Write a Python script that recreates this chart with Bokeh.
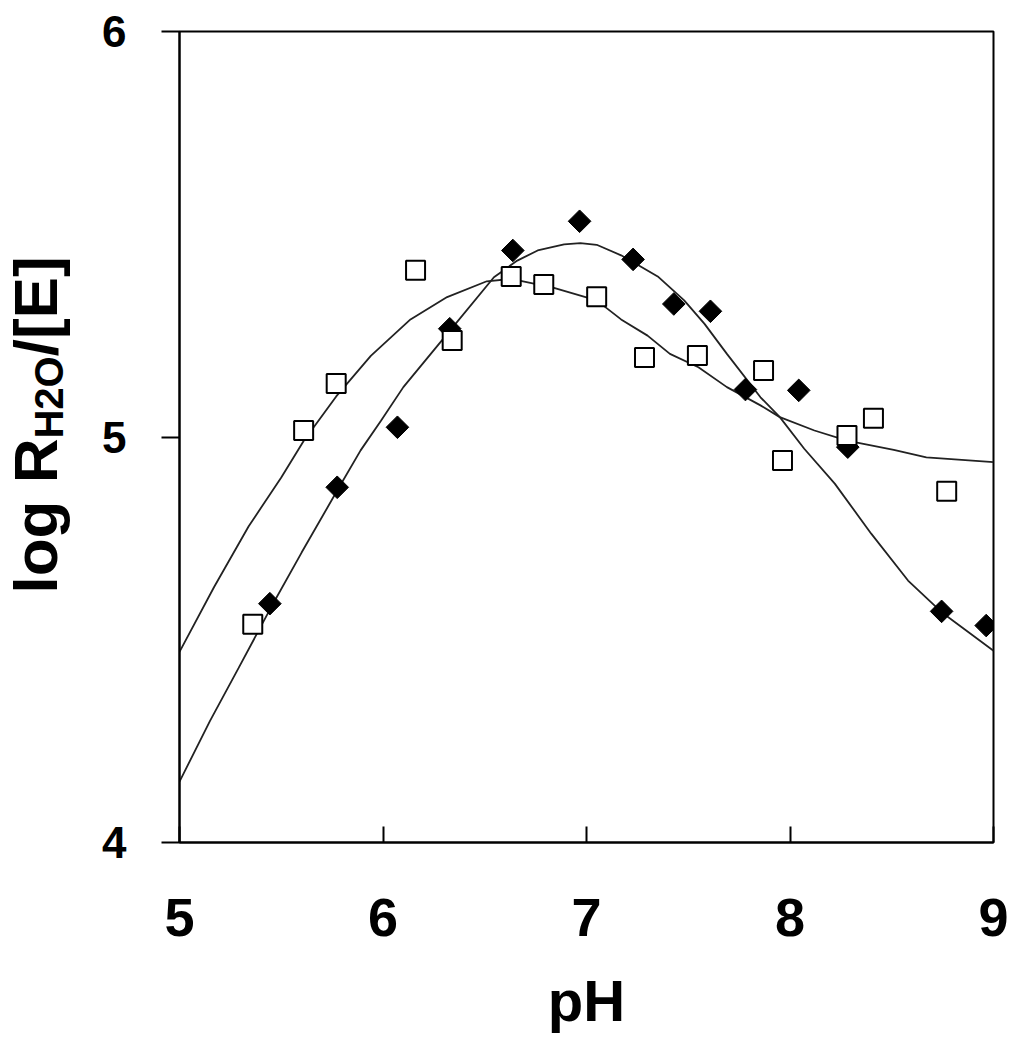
import math
from bokeh.plotting import figure
from bokeh.models import Range1d, FixedTicker, Label
from bokeh.layouts import row
from bokeh.embed import file_html
from bokeh.resources import INLINE

# Open squares series
sq_x = [5.36, 5.61, 5.77, 6.16, 6.34, 6.63, 6.79, 7.05, 7.285, 7.545, 7.87, 7.963, 8.28, 8.41, 8.77]
sq_y = [4.538, 5.016, 5.132, 5.411, 5.238, 5.396, 5.376, 5.346, 5.196, 5.201, 5.164, 4.942, 5.004, 5.046, 4.866]

# Filled diamonds series
dm_x = [5.444, 5.775, 6.071, 6.328, 6.638, 6.966, 7.229, 7.429, 7.609, 7.781, 8.043, 8.284, 8.745, 8.964]
dm_y = [4.589, 4.876, 5.024, 5.267, 5.460, 5.532, 5.438, 5.328, 5.310, 5.117, 5.115, 4.975, 4.570, 4.535]

# Fitted curve for the open squares
fitA_x = [5.0, 5.17, 5.34, 5.5, 5.61, 5.77, 5.94, 6.135, 6.315, 6.51, 6.63, 6.84, 7.05, 7.17, 7.30, 7.41,
          7.55, 7.69, 7.855, 7.95, 8.12, 8.28, 8.51, 8.67, 9.0]
fitA_y = [4.47, 4.63, 4.78, 4.90, 4.99, 5.10, 5.20, 5.29, 5.345, 5.384, 5.39, 5.368, 5.337, 5.29, 5.25, 5.205,
          5.172, 5.123, 5.078, 5.049, 5.016, 4.991, 4.968, 4.950, 4.938]

# Fitted curve for the filled diamonds
fitB_x = [5.0, 5.15, 5.29, 5.45, 5.6, 5.775, 5.89, 5.99, 6.10, 6.33, 6.545, 6.66, 6.76, 6.89, 6.97, 7.05,
          7.17, 7.23, 7.35, 7.48, 7.58, 7.69, 7.855, 7.95, 8.07, 8.22, 8.40, 8.58, 8.745, 9.0]
fitB_y = [4.15, 4.30, 4.43, 4.58, 4.715, 4.868, 4.967, 5.04, 5.123, 5.263, 5.394, 5.435, 5.46, 5.475, 5.478, 5.474,
          5.448, 5.431, 5.396, 5.337, 5.279, 5.205, 5.098, 5.049, 4.971, 4.885, 4.761, 4.646, 4.568, 4.473]

x_ticks = [5, 6, 7, 8, 9]
y_ticks = [4, 5, 6]

FONT = "Liberation Sans"
TOP = 31
FRAME_H = 811
TITLE_W = 90

yr = Range1d(4, 6)

p = figure(frame_width=814, frame_height=FRAME_H,
           x_range=Range1d(5, 9), y_range=yr,
           output_backend="svg", toolbar_location=None,
           min_border_left=179 - TITLE_W, min_border_top=TOP, min_border_right=17, min_border_bottom=150)

p.grid.visible = False
p.background_fill_color = "white"
p.border_fill_color = "white"
p.outline_line_color = "black"
p.outline_line_width = 2
p.outline_line_alpha = 1

xa = p.xaxis[0]
xa.ticker = FixedTicker(ticks=x_ticks)
xa.axis_line_width = 2
xa.major_tick_in = 16
xa.major_tick_out = 0
xa.major_tick_line_width = 2
xa.minor_tick_line_color = None
xa.major_label_text_font = FONT
xa.major_label_text_font_style = "bold"
xa.major_label_text_font_size = "54px"
xa.major_label_text_color = "black"
xa.major_label_standoff = 56
xa.axis_label = "pH"
xa.axis_label_text_font = FONT
xa.axis_label_text_font_style = "bold"
xa.axis_label_text_font_size = "58px"
xa.axis_label_text_color = "black"
xa.axis_label_standoff = 29

ya = p.yaxis[0]
ya.ticker = FixedTicker(ticks=y_ticks)
ya.axis_line_width = 2
ya.major_tick_in = 0
ya.major_tick_out = 18
ya.major_tick_line_width = 2
ya.minor_tick_line_color = None
ya.major_label_text_font = FONT
ya.major_label_text_font_style = "bold"
ya.major_label_text_font_size = "44px"
ya.major_label_text_color = "black"
ya.major_label_standoff = 35

# curves
p.line(fitA_x, fitA_y, line_color="#222222", line_width=1.8)
p.line(fitB_x, fitB_y, line_color="#222222", line_width=1.8)

# markers
p.scatter(dm_x, dm_y, marker="square", size=16, angle=math.pi / 4,
          fill_color="black", line_color="black", line_width=1)
p.scatter(sq_x, sq_y, marker="square", size=19,
          fill_color="white", line_color="black", line_width=2)

# narrow panel holding the y-axis title (with subscript), sharing the y range
t = figure(frame_width=TITLE_W, frame_height=FRAME_H,
           x_range=Range1d(0, TITLE_W), y_range=yr,
           x_axis_type=None, y_axis_type=None,
           output_backend="svg", toolbar_location=None,
           min_border_left=0, min_border_right=0, min_border_top=TOP, min_border_bottom=0)
t.grid.visible = False
t.outline_line_color = None
t.background_fill_color = "white"
t.border_fill_color = "white"

common = dict(angle=math.pi / 2, text_font=FONT, text_font_style="bold",
              text_color="black", text_align="left", text_baseline="alphabetic")
t.add_layout(Label(x=35, y=4.614, text="log R", text_font_size="62px", **common))
t.add_layout(Label(x=48, y=4.996, text="H2O", text_font_size="40px", **common))
t.add_layout(Label(x=35, y=5.199, text="/[E]", text_font_size="62px", **common))

layout = row(t, p, spacing=0)
open("out.html", "w").write(file_html(layout, INLINE))
